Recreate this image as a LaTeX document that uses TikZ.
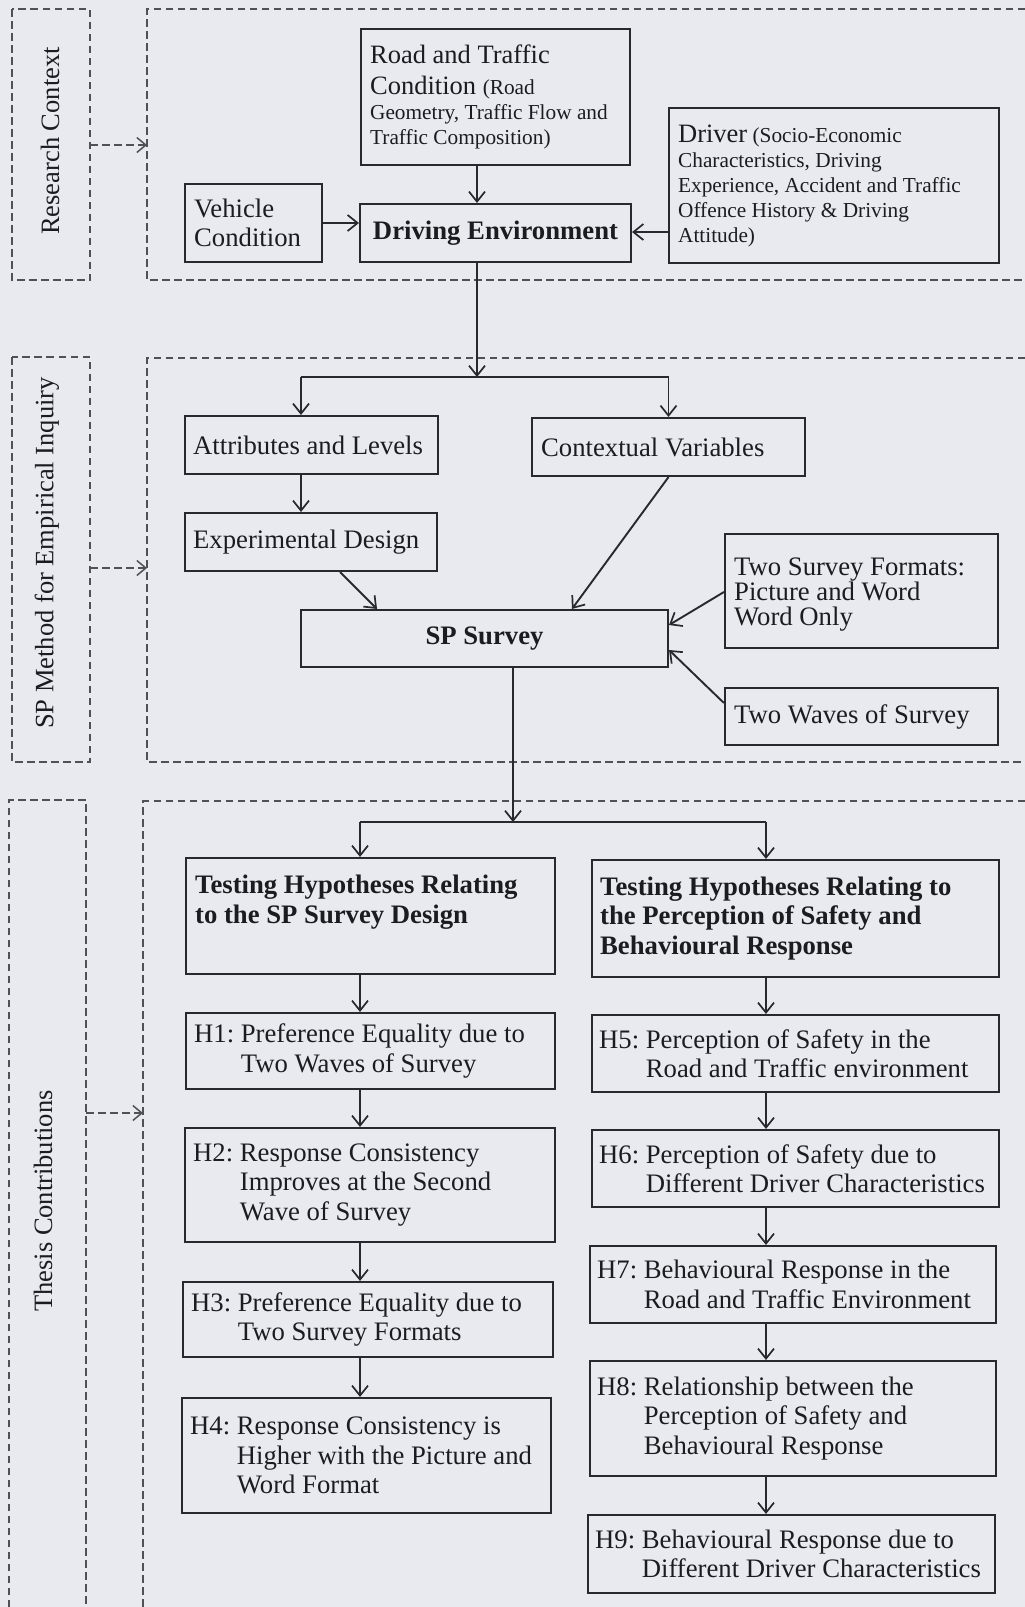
\documentclass[tikz,border=0pt]{standalone}
\usepackage{fontspec}
\setmainfont{Liberation Serif}
\usetikzlibrary{arrows.meta,calc}
\definecolor{bg}{RGB}{233,234,239}
\definecolor{ink}{RGB}{40,40,45}
\definecolor{tink}{RGB}{28,28,32}
\definecolor{dashc}{RGB}{80,80,86}
\newcommand\fmain{\fontsize{26.7}{29.5}\selectfont}
\newcommand\fsm{\fontsize{21.3}{25}\selectfont}
\newcommand\fbigr{\fontsize{26.5}{31}\selectfont}
\newcommand\ind[1]{\hphantom{#1:\ }}
\newcommand\mkbox[6][]{\node[bx,#1,minimum width={#4-#2},minimum height={#5-#3}] (#6) at ({(#2+#4)/2},{(#3+#5)/2}) {};}
\tikzset{
  bx/.style={draw=ink,line width=2.1pt,inner sep=0pt,rectangle,text=tink,font=\fmain},
  txt/.style={inner sep=0pt,align=left,font=\fmain,text=tink,anchor=west},
  lbl/.style={inner sep=0pt,font=\fontsize{26.5}{30}\selectfont,text=tink,rotate=90},
  line/.style={draw=ink,line width=1.9pt},
  arr/.style={line,-{Straight Barb[length=10pt,width=16pt,line width=1.7pt]}},
  frm/.style={draw=dashc,line width=1.5pt,dash pattern=on 7.5pt off 4.5pt},
  darr/.style={frm,-{Straight Barb[length=9pt,width=15pt,line width=1.5pt]}}
}
\begin{document}
\begin{tikzpicture}[x=1pt,y=-1pt]
\path[use as bounding box,fill=bg] (0,0) rectangle (1025,1607);

% ---------------- frames ----------------
\draw[frm] (12,9) rectangle (90,280);
\draw[frm] (1025,9) -- (147,9) -- (147,280) -- (1025,280);
\draw[frm] (12,357) rectangle (90,762);
\draw[frm] (1025,358) -- (147,358) -- (147,762) -- (1025,762);
\draw[frm] (9,1607) -- (9,800) -- (86,800) -- (86,1607);
\draw[frm] (1025,801) -- (143,801) -- (143,1607);

\node[lbl] (lab1) at (50,141) {Research Context};
\node[lbl] (lab2) at (47,553) {SP Method for Empirical Inquiry};
\node[lbl] (lab3) at (43,1201) {Thesis Contributions};

\coordinate (d1a) at (90,145);  \coordinate (d1b) at (147,145);
\coordinate (d2a) at (90,568);  \coordinate (d2b) at (147,568);
\coordinate (d3a) at (86,1113); \coordinate (d3b) at (143,1113);
\draw[darr] (d1a) -- (d1b);
\draw[darr] (d2a) -- (d2b);
\draw[darr] (d3a) -- (d3b);

% ---------------- group 1 ----------------
\mkbox{361}{29}{630}{165}{rtc}
\node[txt,font=\fbigr] (rtct) at ([xshift=10pt]rtc.west) {Road and Traffic\\Condition {\fsm (Road}\\[-6pt]{\fsm Geometry, Traffic Flow and}\\[-6pt]{\fsm Traffic Composition)}};
\mkbox{185}{184}{322}{262}{veh}
\node[txt] (veht) at ([xshift=10pt]veh.west) {Vehicle\\Condition};
\node[bx,font=\fmain\bfseries,minimum width=271,minimum height=58] (de) at (495.5,233) {Driving Environment};
\mkbox{669}{108}{999}{263}{drv}
\node[txt,font=\fsm] (drvt) at ([xshift=10pt]drv.west) {{\fontsize{26.5}{25}\selectfont Driver} (Socio-Economic\\Characteristics, Driving\\Experience, Accident and Traffic\\Offence History \& Driving\\Attitude)};

% ---------------- group 2 ----------------
\mkbox{185}{416}{438}{474}{att}
\node[txt] (attt) at ([xshift=9pt]att.west) {Attributes and Levels};
\mkbox{185}{513}{437}{571}{exp}
\node[txt] (expt) at ([xshift=9pt]exp.west) {Experimental Design};
\mkbox{532}{418}{805}{476}{ctx}
\node[txt] (ctxt) at ([xshift=10pt]ctx.west) {Contextual Variables};
\node[bx,font=\fmain\bfseries,minimum width=367,minimum height=57] (sp) at (484.5,638.5) {SP Survey};
\mkbox{725}{534}{998}{648}{tsf}
\node[txt,font=\fontsize{26.7}{25}\selectfont] (tsft) at ([xshift=10pt,yshift=-4pt]tsf.west) {Two Survey Formats:\\Picture and Word\\Word Only};
\mkbox{725}{688}{998}{745}{twv}
\node[txt] (twvt) at ([xshift=10pt]twv.west) {Two Waves of Survey};

% ---------------- group 3 ----------------
\mkbox{186}{858}{555}{974}{tl}
\node[txt,font=\fmain\bfseries] (tlt) at ([xshift=10pt,yshift=14pt]tl.west) {Testing Hypotheses Relating\\to the SP Survey Design};
\mkbox{592}{860}{999}{977}{tr}
\node[txt,font=\fmain\bfseries] (trt) at ([xshift=9pt]tr.west) {Testing Hypotheses Relating to\\the Perception of Safety and\\Behavioural Response};

\mkbox{186}{1013}{555}{1089}{h1}
\node[txt] (h1t) at ([xshift=9pt]h1.west) {H1:\ Preference Equality due to\\\ind{H1}Two Waves of Survey};
\mkbox{185}{1128}{555}{1242}{h2}
\node[txt] (h2t) at ([xshift=9pt]h2.west) {H2:\ Response Consistency\\\ind{H2}Improves at the Second\\\ind{H2}Wave of Survey};
\mkbox{183}{1282}{553}{1357}{h3}
\node[txt] (h3t) at ([xshift=9pt]h3.west) {H3:\ Preference Equality due to\\\ind{H3}Two Survey Formats};
\mkbox{182}{1398}{551}{1513}{h4}
\node[txt] (h4t) at ([xshift=9pt]h4.west) {H4:\ Response Consistency is\\\ind{H4}Higher with the Picture and\\\ind{H4}Word Format};

\mkbox{592}{1015}{999}{1092}{h5}
\node[txt] (h5t) at ([xshift=8pt]h5.west) {H5:\ Perception of Safety in the\\\ind{H5}Road and Traffic environment};
\mkbox{592}{1130}{999}{1207}{h6}
\node[txt] (h6t) at ([xshift=8pt]h6.west) {H6:\ Perception of Safety due to\\\ind{H6}Different Driver Characteristics};
\mkbox{590}{1246}{996}{1323}{h7}
\node[txt] (h7t) at ([xshift=8pt]h7.west) {H7:\ Behavioural Response in the\\\ind{H7}Road and Traffic Environment};
\mkbox{590}{1361}{996}{1476}{h8}
\node[txt] (h8t) at ([xshift=8pt]h8.west) {H8:\ Relationship between the\\\ind{H8}Perception of Safety and\\\ind{H8}Behavioural Response};
\mkbox{588}{1515}{995}{1593}{h9}
\node[txt] (h9t) at ([xshift=8pt]h9.west) {H9:\ Behavioural Response due to\\\ind{H9}Different Driver Characteristics};

% ---------------- connectors ----------------
\coordinate (v1) at (477,377);
\coordinate (jA) at (301,377);
\coordinate (jC) at (668.5,377);
\coordinate (yD) at (0,232);
\coordinate (e1) at (340,0);
\coordinate (e2) at (377,0);
\coordinate (e3) at (572,0);
\coordinate (f1) at (0,592);
\coordinate (f2) at (0,625);
\coordinate (f3) at (0,703);
\coordinate (f4) at (0,650);
\coordinate (v2) at (513,822);
\coordinate (jL) at (360,822);
\coordinate (jR) at (766,822);

\draw[arr] (rtc.south -| v1) -- (de.north -| v1);
\draw[arr] (veh.east) -- (de.west |- veh.east);
\draw[arr] (drv.west |- yD) -- (de.east |- yD);
\draw[arr] (de.south -| v1) -- (v1);
\draw[line] (jA) -- (jC);
\draw[arr] (jA) -- (att.north -| jA);
\draw[arr] (jC) -- (ctx.north -| jC);
\draw[arr] (att.south -| jA) -- (exp.north -| jA);
\draw[arr] (exp.south -| e1) -- (sp.north -| e2);
\draw[arr] (ctx.south) -- (sp.north -| e3);
\draw[arr] (tsf.west |- f1) -- (sp.east |- f2);
\draw[arr] (twv.west |- f3) -- (sp.east |- f4);
\draw[arr] (sp.south -| v2) -- (v2);
\draw[line] (jL) -- (jR);
\draw[arr] (jL) -- (tl.north -| jL);
\draw[arr] (jR) -- (tr.north -| jR);
\draw[arr] (tl.south -| jL) -- (h1.north -| jL);
\draw[arr] (h1.south -| jL) -- (h2.north -| jL);
\draw[arr] (h2.south -| jL) -- (h3.north -| jL);
\draw[arr] (h3.south -| jL) -- (h4.north -| jL);
\draw[arr] (tr.south -| jR) -- (h5.north -| jR);
\draw[arr] (h5.south -| jR) -- (h6.north -| jR);
\draw[arr] (h6.south -| jR) -- (h7.north -| jR);
\draw[arr] (h7.south -| jR) -- (h8.north -| jR);
\draw[arr] (h8.south -| jR) -- (h9.north -| jR);
\end{tikzpicture}
\end{document}
